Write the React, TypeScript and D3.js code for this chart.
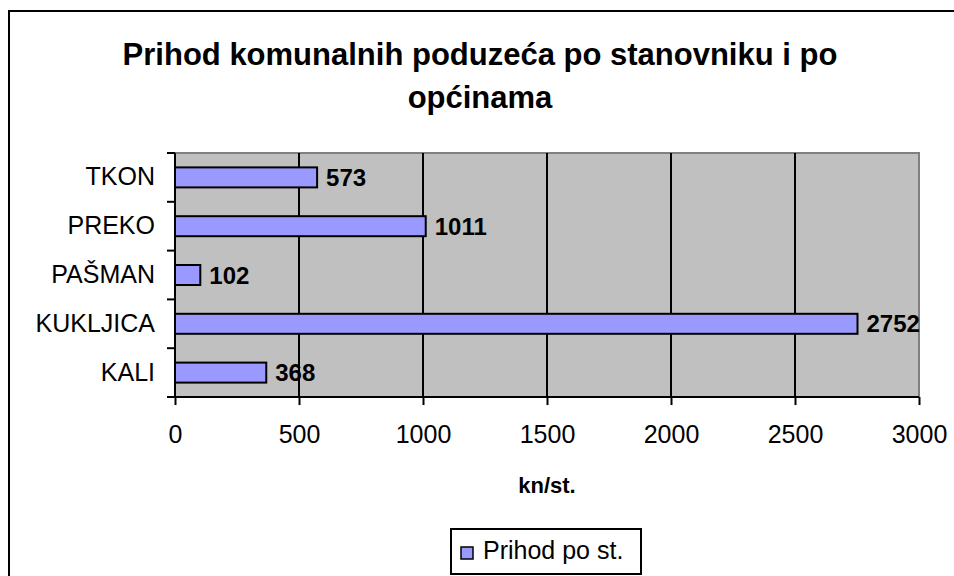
import React from "react";
import * as d3 from "d3";

const categories = ["TKON", "PREKO", "PAŠMAN", "KUKLJICA", "KALI"];
const values = [573, 1011, 102, 2752, 368];
const xTicks = [0, 500, 1000, 1500, 2000, 2500, 3000];
const seriesName = "Prihod po st.";
const titleLines = ["Prihod komunalnih poduzeća po stanovniku i po", "općinama"];
const axisTitle = "kn/st.";

const W = 954;
const H = 576;
const plot = { left: 175, top: 153, right: 919, bottom: 397 };
const font = "'Liberation Sans', Arial, sans-serif";

const App = () => {
  const svgRef = React.useRef<SVGSVGElement>(null);

  React.useEffect(() => {
    const svg = d3.select(svgRef.current);
    svg.selectAll("*").remove();

    const x = d3.scaleLinear().domain([0, 3000]).range([plot.left, plot.right]);
    const y = d3
      .scaleBand<string>()
      .domain(categories)
      .range([plot.top, plot.bottom])
      .paddingInner(0.59)
      .paddingOuter(0.295);

    // chart frame (runs off the page on right/bottom)
    svg
      .append("rect")
      .attr("x", 9)
      .attr("y", 11)
      .attr("width", 960)
      .attr("height", 600)
      .attr("fill", "white")
      .attr("stroke", "black")
      .attr("stroke-width", 2);

    // title
    svg
      .append("text")
      .attr("font-family", font)
      .attr("font-weight", "bold")
      .attr("font-size", 31)
      .attr("text-anchor", "middle")
      .selectAll("tspan")
      .data(titleLines)
      .join("tspan")
      .attr("x", 480)
      .attr("y", (_d, i) => 65 + i * 43)
      .text((d) => d);

    // plot area
    svg
      .append("rect")
      .attr("x", plot.left)
      .attr("y", plot.top)
      .attr("width", plot.right - plot.left)
      .attr("height", plot.bottom - plot.top)
      .attr("fill", "#c0c0c0")
      .attr("stroke", "#808080")
      .attr("stroke-width", 2);

    // vertical grid
    svg
      .append("g")
      .selectAll("line")
      .data(xTicks.slice(1, -1))
      .join("line")
      .attr("x1", (d) => x(d))
      .attr("x2", (d) => x(d))
      .attr("y1", plot.top)
      .attr("y2", plot.bottom)
      .attr("stroke", "black")
      .attr("stroke-width", 2);

    // bars
    svg
      .append("g")
      .selectAll("rect")
      .data(categories)
      .join("rect")
      .attr("x", x(0))
      .attr("y", (d) => y(d)!)
      .attr("width", (_d, i) => x(values[i]) - x(0))
      .attr("height", y.bandwidth())
      .attr("fill", "#9999ff")
      .attr("stroke", "black")
      .attr("stroke-width", 2);

    // value labels
    svg
      .append("g")
      .selectAll("text")
      .data(categories)
      .join("text")
      .attr("x", (_d, i) => x(values[i]) + 9)
      .attr("y", (d) => y(d)! + y.bandwidth() / 2)
      .attr("dy", "0.36em")
      .attr("font-family", font)
      .attr("font-weight", "bold")
      .attr("font-size", 24)
      .text((_d, i) => values[i]);

    // x axis
    const xAxis = d3
      .axisBottom(x)
      .tickValues(xTicks)
      .tickSize(8)
      .tickPadding(20)
      .tickFormat((d) => `${d}`);
    const xg = svg
      .append("g")
      .attr("transform", `translate(0,${plot.bottom})`)
      .call(xAxis);
    xg.select(".domain").attr("stroke", "black").attr("stroke-width", 2).attr("d", `M${plot.left},0H${plot.right}`);
    xg.selectAll(".tick line").attr("stroke", "black").attr("stroke-width", 2);
    xg.selectAll("text")
      .attr("fill", "black")
      .attr("font-family", font)
      .attr("font-size", 25);

    // y axis
    const yAxis = d3.axisLeft(y).tickSize(0).tickPadding(20);
    const yg = svg
      .append("g")
      .attr("transform", `translate(${plot.left},0)`)
      .call(yAxis);
    yg.select(".domain").attr("stroke", "black").attr("stroke-width", 2).attr("d", `M0,${plot.top}V${plot.bottom}`);
    yg.selectAll("text")
      .attr("fill", "black")
      .attr("font-family", font)
      .attr("font-size", 25);
    // category separator ticks
    const step = y.step();
    svg
      .append("g")
      .selectAll("line")
      .data(d3.range(categories.length + 1))
      .join("line")
      .attr("x1", plot.left - 8)
      .attr("x2", plot.left)
      .attr("y1", (i) => plot.top + i * step)
      .attr("y2", (i) => plot.top + i * step)
      .attr("stroke", "black")
      .attr("stroke-width", 2);

    // axis title
    svg
      .append("text")
      .attr("x", (plot.left + plot.right) / 2)
      .attr("y", 493)
      .attr("text-anchor", "middle")
      .attr("font-family", font)
      .attr("font-weight", "bold")
      .attr("font-size", 22)
      .text(axisTitle);

    // legend
    const lg = svg.append("g");
    lg.append("rect")
      .attr("x", 451)
      .attr("y", 529)
      .attr("width", 190)
      .attr("height", 45)
      .attr("fill", "white")
      .attr("stroke", "black")
      .attr("stroke-width", 2);
    lg.append("rect")
      .attr("x", 461)
      .attr("y", 547)
      .attr("width", 12)
      .attr("height", 12)
      .attr("fill", "#9999ff")
      .attr("stroke", "black")
      .attr("stroke-width", 1.5);
    lg.append("text")
      .attr("x", 483)
      .attr("y", 559)
      .attr("font-family", font)
      .attr("font-size", 25)
      .text(seriesName);
  }, []);

  return (
    <svg
      ref={svgRef}
      width={W}
      height={H}
      style={{ position: "absolute", left: 0, top: 0 }}
    />
  );
};

export default App;
